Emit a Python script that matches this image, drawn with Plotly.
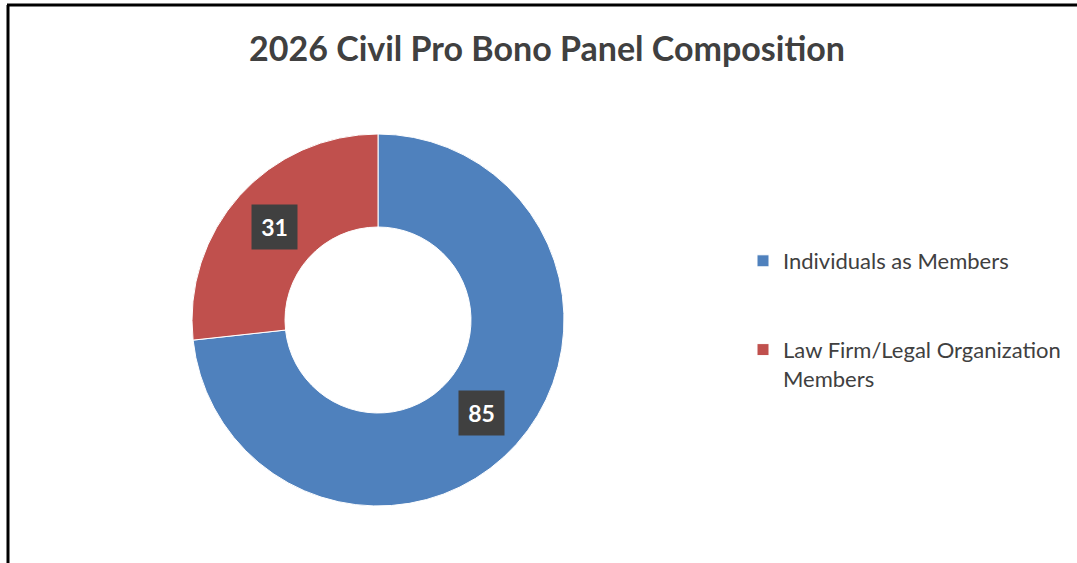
import math
import plotly.graph_objects as go

# ---- data ----
categories = ["Individuals as Members", "Law Firm/Legal Organization Members"]
legend_labels = ["Individuals as Members<br> <br> ", "Law Firm/Legal Organization<br>Members"]
values = [85, 31]
colors = ["#4F81BD", "#C0504D"]
title_text = "2026 Civil Pro Bono Panel Composition"

W, H = 1077, 563
# pie geometry (pixels)
cx, cy, R = 378, 320, 186
hole = 0.5

fig = go.Figure()
fig.add_trace(go.Pie(
    labels=legend_labels,
    values=values,
    hole=hole,
    sort=False,
    direction="clockwise",
    rotation=0,
    marker=dict(colors=colors, line=dict(color="white", width=1)),
    textinfo="none",
    hoverinfo="label+value",
    domain=dict(x=[(cx - R) / W, (cx + R) / W], y=[1 - (cy + R) / H, 1 - (cy - R) / H]),
))

# data labels placed at mid-angle of each slice, middle of the ring
total = sum(values)
cum = 0
r_mid = R * (1 + hole) / 2
for v in values:
    mid = (cum + v / 2) / total * 2 * math.pi
    cum += v
    px = cx + r_mid * math.sin(mid)
    py = cy - r_mid * math.cos(mid)
    fig.add_annotation(
        x=px / W, y=1 - py / H, xref="paper", yref="paper",
        text="<b>%d</b>" % v, showarrow=False,
        font=dict(family="Lato", size=23, color="white"),
        bgcolor="#404040", width=43, height=42,
        xanchor="center", yanchor="middle",
    )

# chart frame (partially cropped in the reference)
fig.add_shape(type="line", xref="paper", yref="paper", x0=7 / W, x1=1, y0=1 - 5 / H, y1=1 - 5 / H,
              line=dict(color="black", width=3))
fig.add_shape(type="line", xref="paper", yref="paper", x0=8 / W, x1=8 / W, y0=0, y1=1 - 5 / H,
              line=dict(color="black", width=3))

fig.update_layout(
    width=W, height=H,
    margin=dict(l=0, r=0, t=0, b=0),
    paper_bgcolor="white", plot_bgcolor="white",
    title=dict(text="<b>" + title_text + "</b>", x=547 / W, xanchor="center",
               y=1 - 49 / H, yanchor="middle",
               font=dict(family="Lato", size=34, color="#404040")),
    showlegend=True,
    legend=dict(x=743 / W, y=1 - 240 / H, xanchor="left", yanchor="top",
                valign="top", font=dict(family="Lato", size=22, color="#404040"),
                bgcolor="rgba(0,0,0,0)", itemclick=False),
)

fig.write_html("out.html", config={"displayModeBar": False},
               post_script="document.body.style.margin='0px';")
